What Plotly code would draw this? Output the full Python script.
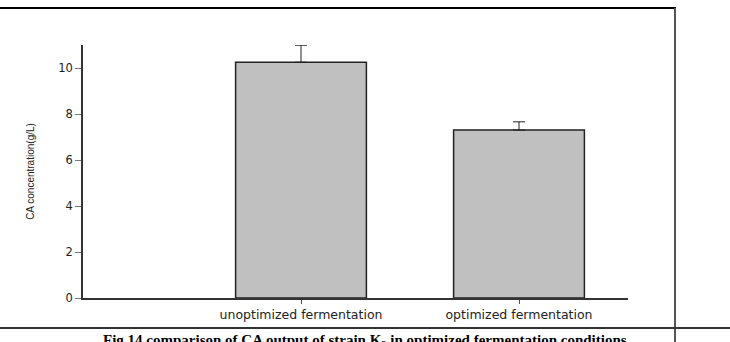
import plotly.graph_objects as go

categories = ["unoptimized fermentation", "optimized fermentation"]
positions = [1, 2]
values = [10.25, 7.3]
errors_up = [0.74, 0.36]
y_ticks = [0, 2, 4, 6, 8, 10]
caption = "Fig.14 comparison of CA output of strain K<sub>3</sub> in optimized fermentation conditions"

# plot area in pixels
L, R, T, B = 83, 628, 45, 298
W, H = 730, 342
pw, ph = R - L, B - T


def px(x):
    return (x - L) / pw


def py(y):
    return (B - y) / ph


fig = go.Figure()
fig.add_trace(go.Bar(
    x=positions, y=values, width=0.6,
    marker=dict(color="#C0C0C0", line=dict(color="#222222", width=1.5)),
    error_y=dict(type="data", array=errors_up, arrayminus=[0, 0], symmetric=False,
                 color="#222222", thickness=1, width=6),
    showlegend=False,
))

fig.update_layout(
    width=W, height=H,
    margin=dict(l=L, r=W - R, t=T, b=H - B),
    paper_bgcolor="white", plot_bgcolor="white",
    font=dict(family="DejaVu Sans, Verdana, sans-serif", color="#222222"),
    xaxis=dict(range=[0, 2.5], tickvals=positions, ticktext=categories,
               showline=True, linecolor="#333333", linewidth=1.5,
               ticks="outside", ticklen=4, tickcolor="#555555",
               showgrid=False, zeroline=False, tickfont=dict(size=12.5)),
    yaxis=dict(range=[0, 11], tickvals=y_ticks,
               showline=True, linecolor="#333333", linewidth=1.5,
               ticks="outside", ticklen=6, tickcolor="#777777",
               showgrid=False, zeroline=False, tickfont=dict(size=11.5),
               title=dict(text="CA concentration(g/L)",
                          font=dict(family="Liberation Sans Narrow, Liberation Sans, Arial, sans-serif", size=10),
                          standoff=22)),
    shapes=[
        dict(type="line", xref="paper", yref="paper", x0=px(0), x1=px(676), y0=py(8), y1=py(8),
             line=dict(color="black", width=2)),
        dict(type="line", xref="paper", yref="paper", x0=px(675), x1=px(675), y0=py(8), y1=py(342),
             line=dict(color="#555555", width=2)),
        dict(type="line", xref="paper", yref="paper", x0=px(0), x1=px(730), y0=py(328), y1=py(328),
             line=dict(color="#333333", width=2)),
    ],
    annotations=[
        dict(text="<b>" + caption + "</b>", xref="paper", yref="paper",
             x=px(365), y=py(341), xanchor="center", yanchor="middle", showarrow=False,
             font=dict(family="Liberation Serif, Times New Roman, serif", size=15, color="black")),
    ],
)

fig.write_html("out.html")
